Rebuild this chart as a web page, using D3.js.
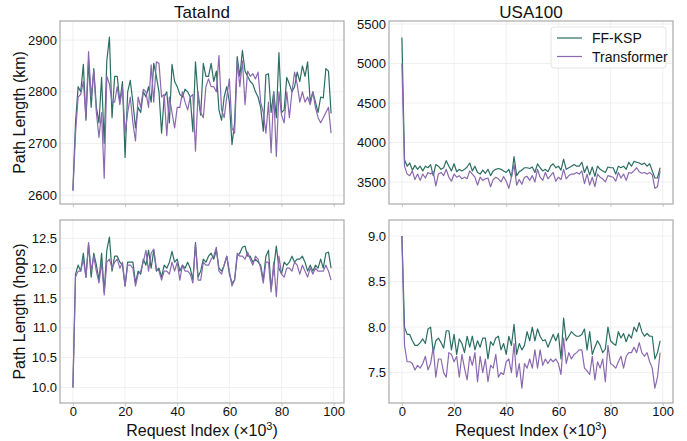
<!DOCTYPE html>
<html>
<head>
<meta charset="utf-8">
<script src="https://cdn.jsdelivr.net/npm/d3@7"></script>
<style>
  body { margin: 0; background: #fff; }
  svg { font-family: "Liberation Sans", Arial, sans-serif; }
</style>
</head>
<body>
<div class="chart"></div>
<script>

// request index, in thousands
let requestIndex = d3.range(0, 100);

let seriesNames = ["FF-KSP", "Transformer"];
let networks = ["TataInd", "USA100"];

let xTicks = [0, 20, 40, 60, 80, 100];
let kmTicksTata = [2600, 2700, 2800, 2900];
let kmTicksUsa = [3500, 4000, 4500, 5000, 5500];
let hopTicksTata = [10.0, 10.5, 11.0, 11.5, 12.0, 12.5];
let hopTicksUsa = [7.5, 8.0, 8.5, 9.0];

let tataKmKsp = [2610, 2740, 2810, 2800, 2853, 2745, 2860, 2770, 2845, 2770,
  2740, 2828, 2700, 2860, 2906, 2750, 2830, 2830, 2780, 2820,
  2673, 2800, 2822, 2780, 2730, 2770, 2760, 2800, 2790, 2810,
  2780, 2855, 2830, 2800, 2720, 2790, 2800, 2740, 2853, 2820,
  2810, 2795, 2790, 2805, 2800, 2790, 2723, 2858, 2790, 2755,
  2855, 2830, 2830, 2855, 2820, 2840, 2765, 2745, 2790, 2810,
  2780, 2698, 2740, 2868, 2830, 2880, 2840, 2830, 2820, 2815,
  2800, 2790, 2770, 2724, 2833, 2835, 2760, 2800, 2750, 2876,
  2760, 2765, 2828, 2815, 2800, 2810, 2838, 2820, 2850, 2830,
  2858, 2780, 2800, 2780, 2760, 2790, 2788, 2845, 2840, 2758];

let tataKmTransformer = [2608, 2720, 2790, 2795, 2820, 2750, 2878, 2790, 2840, 2760,
  2712, 2760, 2633, 2830, 2815, 2780, 2780, 2810, 2775, 2810,
  2720, 2760, 2790, 2740, 2705, 2790, 2770, 2805, 2800, 2770,
  2852, 2780, 2858, 2855, 2790, 2795, 2715, 2790, 2760, 2730,
  2770, 2770, 2800, 2780, 2765, 2790, 2795, 2685, 2800, 2760,
  2750, 2810, 2825, 2810, 2810, 2800, 2870, 2765, 2750, 2790,
  2825, 2730, 2720, 2860, 2810, 2860, 2775, 2840, 2830, 2835,
  2825, 2838, 2780, 2760, 2720, 2780, 2682, 2800, 2675, 2800,
  2755, 2740, 2800, 2750, 2800, 2838, 2815, 2780, 2800, 2780,
  2790, 2775, 2800, 2770, 2750, 2740, 2750, 2760, 2770, 2720];

let usaKmKsp = [5330, 3780, 3700, 3740, 3650, 3710, 3660, 3700, 3640, 3700,
  3680, 3720, 3580, 3720, 3700, 3660, 3680, 3770, 3700, 3640,
  3730, 3630, 3660, 3640, 3660, 3690, 3740, 3640, 3700, 3620,
  3600, 3650, 3610, 3660, 3580, 3640, 3660, 3670, 3660, 3640,
  3620, 3660, 3560, 3820, 3580, 3630, 3650, 3680, 3680, 3670,
  3690, 3620, 3730, 3680, 3640, 3660, 3630, 3700, 3730, 3680,
  3700, 3650, 3790, 3660, 3680, 3700, 3720, 3700, 3700, 3750,
  3620, 3700, 3590, 3690, 3570, 3700, 3660, 3640, 3620, 3690,
  3680, 3680, 3600, 3700, 3680, 3700, 3660, 3750, 3700, 3760,
  3750, 3740, 3720, 3740, 3700, 3730, 3640, 3550, 3550, 3680];

let usaKmTransformer = [5000, 3700, 3600, 3580, 3640, 3530, 3600, 3520, 3600, 3550,
  3620, 3600, 3630, 3450, 3600, 3620, 3580, 3660, 3560, 3510,
  3600, 3560, 3580, 3540, 3560, 3540, 3640, 3600, 3560, 3460,
  3560, 3520, 3540, 3550, 3440, 3530, 3560, 3540, 3500, 3570,
  3510, 3420, 3560, 3720, 3460, 3530, 3470, 3560, 3570, 3520,
  3580, 3500, 3660, 3560, 3520, 3620, 3540, 3580, 3620, 3510,
  3560, 3530, 3660, 3540, 3580, 3600, 3600, 3620, 3600, 3640,
  3480, 3600, 3460, 3560, 3440, 3600, 3560, 3540, 3500, 3580,
  3570, 3560, 3510, 3620, 3550, 3600, 3520, 3620, 3610, 3640,
  3680, 3630, 3610, 3620, 3600, 3620, 3590, 3420, 3440, 3640];

let tataHopKsp = [10.0, 11.9, 12.05, 11.95, 12.25, 11.85, 12.4, 11.85, 12.25, 12.05,
  11.8, 12.25, 11.6, 12.3, 12.52, 11.95, 12.2, 12.2, 12.1, 12.05,
  11.7, 12.1, 12.1, 12.1, 11.75, 11.95, 11.9, 12.15, 12.05, 12.3,
  12.0, 12.3, 11.95, 12.0, 11.85, 12.05, 12.0, 12.1, 12.28, 12.1,
  12.15, 11.95, 12.05, 12.0, 12.1, 12.0, 11.8, 12.43, 11.85, 11.95,
  12.15, 12.1, 12.2, 12.25, 12.15, 12.3, 12.0, 11.95, 12.05, 12.2,
  11.9, 11.75, 11.8, 12.2, 12.25, 12.35, 12.37, 12.2, 12.2, 12.1,
  12.15, 12.1, 12.05, 11.8, 12.2, 12.3, 11.65, 12.0, 12.37, 12.0,
  11.9, 12.1, 12.05, 12.1, 12.2, 12.1, 12.15, 12.15, 12.2, 12.1,
  11.95, 12.05, 11.95, 12.05, 12.0, 12.15, 12.0, 12.25, 12.27, 12.0];

let tataHopTransformer = [10.0, 11.85, 11.95, 11.95, 12.15, 11.85, 12.43, 11.95, 12.2, 11.95,
  11.75, 12.1, 11.55, 12.1, 12.15, 12.0, 12.1, 12.15, 12.0, 12.1,
  11.7, 12.05, 12.05, 12.0, 11.7, 11.9, 11.95, 12.1, 12.3, 11.95,
  12.25, 12.32, 12.0, 11.95, 11.8, 11.95, 11.95, 11.9, 12.1, 11.95,
  12.1, 11.8, 12.05, 11.95, 11.95, 11.9, 11.75, 12.4, 11.8, 11.8,
  12.1, 12.05, 12.05, 12.15, 12.2, 12.35, 11.95, 11.9, 12.05, 12.2,
  11.95, 11.7, 11.8, 12.25, 12.2, 12.2, 12.15, 12.27, 12.15, 12.05,
  12.2, 12.15, 12.0, 11.75, 12.1, 12.1, 11.6, 12.1, 11.52, 12.2,
  11.9, 11.85, 12.0, 12.0, 11.95, 12.1, 12.05, 11.9, 12.05, 11.95,
  11.85, 12.0, 11.9, 12.0, 11.95, 11.95, 11.95, 12.05, 11.95, 11.8];

let usaHopKsp = [9.0, 8.0, 7.92, 7.92, 7.85, 7.8, 7.8, 7.83, 7.87, 7.82,
  7.98, 8.0, 7.72, 7.85, 7.88, 7.83, 7.77, 7.96, 7.96, 7.75,
  7.92, 7.7, 7.87, 7.82, 7.72, 7.9, 7.78, 7.9, 7.75, 7.85,
  7.78, 7.88, 7.88, 7.65, 7.84, 7.8, 7.88, 7.9, 7.75, 7.82,
  7.7, 7.9, 7.8, 8.03, 7.7, 7.82, 7.75, 7.8, 7.95, 7.85,
  8.0, 7.85, 7.98, 7.9, 7.85, 7.86, 7.78, 7.85, 7.92, 7.85,
  7.93, 7.65, 8.1, 7.85, 7.9, 7.95, 7.92, 7.9, 7.9, 7.92,
  7.98, 7.75, 7.95, 7.7, 7.78, 7.85, 7.8, 7.72, 7.76, 8.0,
  7.85, 7.82, 7.8, 7.95, 7.88, 7.93, 7.84, 7.92, 7.88, 8.0,
  7.95, 8.05, 7.95, 7.9, 7.93, 7.9, 7.9, 7.65, 7.72, 7.85];

let usaHopTransformer = [9.0, 7.8, 7.62, 7.62, 7.6, 7.53, 7.58, 7.55, 7.6, 7.68,
  7.53, 7.6, 7.78, 7.45, 7.65, 7.65, 7.5, 7.45, 7.72, 7.7,
  7.62, 7.68, 7.45, 7.7, 7.55, 7.42, 7.68, 7.58, 7.72, 7.4,
  7.68, 7.5, 7.65, 7.4, 7.58, 7.55, 7.7, 7.45, 7.5, 7.48,
  7.62, 7.65, 7.5, 7.82, 7.45, 7.6, 7.33, 7.6, 7.55, 7.65,
  7.55, 7.75, 7.55, 7.75, 7.58, 7.65, 7.6, 7.65, 7.62, 7.65,
  7.6, 7.48, 7.88, 7.6, 7.72, 7.65, 7.7, 7.72, 7.75, 7.75,
  7.55, 7.52, 7.48, 7.68, 7.42, 7.62, 7.55, 7.65, 7.4, 7.8,
  7.6, 7.58, 7.55, 7.62, 7.68, 7.55, 7.68, 7.72, 7.72, 7.78,
  7.72, 7.83, 7.72, 7.68, 7.72, 7.62, 7.55, 7.33, 7.45, 7.72];

let colors = {"FF-KSP": "#2b6e62", "Transformer": "#8b69b1"};

let svg = d3.select(".chart").append("svg").attr("width", 687).attr("height", 441);

// panel frames (pixels) and y domains incl. matplotlib-style padding
let panels = [
  {left: 60, right: 344, top: 21, bottom: 204, y: [2583, 2937], ticks: kmTicksTata, fmt: d3.format("d"),
    series: [tataKmKsp, tataKmTransformer], title: networks[0], ylabel: "Path Length (km)", xlabels: false},
  {left: 389, right: 673, top: 21, bottom: 204, y: [3221, 5538], ticks: kmTicksUsa, fmt: d3.format("d"),
    series: [usaKmKsp, usaKmTransformer], title: networks[1], legend: true, xlabels: false},
  {left: 60, right: 344, top: 220, bottom: 403, y: [9.739, 12.807], ticks: hopTicksTata, fmt: d3.format(".1f"),
    series: [tataHopKsp, tataHopTransformer], ylabel: "Path Length (hops)", xlabels: true},
  {left: 389, right: 673, top: 220, bottom: 403, y: [7.167, 9.176], ticks: hopTicksUsa, fmt: d3.format(".1f"),
    series: [usaHopKsp, usaHopTransformer], xlabels: true}
];

panels.forEach(p => {

  let x = d3.scaleLinear().domain([-4.95, 103.95]).range([p.left, p.right]);
  let y = d3.scaleLinear().domain(p.y).range([p.bottom, p.top]);

  let g = svg.append("g");

  // grid
  g.selectAll(".gx").data(xTicks).enter().append("line")
    .attr("x1", d => x(d)).attr("x2", d => x(d))
    .attr("y1", p.top).attr("y2", p.bottom)
    .attr("stroke", "#ececec").attr("stroke-width", 0.8);
  g.selectAll(".gy").data(p.ticks).enter().append("line")
    .attr("x1", p.left).attr("x2", p.right)
    .attr("y1", d => y(d)).attr("y2", d => y(d))
    .attr("stroke", "#ececec").attr("stroke-width", 0.8);

  // axes
  let xAxis = d3.axisBottom(x).tickValues(xTicks).tickSize(3).tickPadding(0.5)
    .tickFormat(p.xlabels ? d3.format("d") : "");
  let yAxis = d3.axisLeft(y).tickValues(p.ticks).tickSize(0).tickPadding(3).tickFormat(p.fmt);

  let gx = g.append("g").attr("transform", `translate(0,${p.bottom})`).call(xAxis);
  let gy = g.append("g").attr("transform", `translate(${p.left},0)`).call(yAxis);

  [gx, gy].forEach(a => {
    a.select(".domain").remove();
    a.selectAll(".tick line").attr("stroke", "#c8c8c8");
    a.selectAll(".tick text").attr("fill", "#111").style("font-size", "13px")
      .style("font-family", "Liberation Sans, Arial, sans-serif");
  });

  // lines
  let line = d3.line().x((d, i) => x(requestIndex[i])).y(d => y(d));

  p.series.forEach((s, k) => {
    g.append("path")
      .datum(s)
      .attr("fill", "none")
      .attr("stroke", colors[seriesNames[k]])
      .attr("stroke-width", 1.2)
      .attr("stroke-linejoin", "round")
      .attr("d", line);
  });

  // frame
  g.append("rect")
    .attr("x", p.left).attr("y", p.top)
    .attr("width", p.right - p.left).attr("height", p.bottom - p.top)
    .attr("fill", "none").attr("stroke", "#aaaaaa").attr("stroke-width", 1.2);

  if (p.title) {
    svg.append("text")
      .attr("x", (p.left + p.right) / 2).attr("y", 18)
      .attr("text-anchor", "middle")
      .style("font-size", "17px").attr("fill", "#111")
      .text(p.title);
  }

  if (p.ylabel) {
    svg.append("text")
      .attr("transform", `translate(25,${(p.top + p.bottom) / 2}) rotate(-90)`)
      .attr("text-anchor", "middle")
      .style("font-size", "16px").attr("fill", "#111")
      .text(p.ylabel);
  }

  if (p.xlabels) {
    let t = svg.append("text")
      .attr("x", (p.left + p.right) / 2).attr("y", 436)
      .attr("text-anchor", "middle")
      .style("font-size", "16px").attr("fill", "#111")
      .text("Request Index (\u00d710");
    t.append("tspan").attr("dy", -6).style("font-size", "11px").text("3");
    t.append("tspan").attr("dy", 6).text(")");
  }

  if (p.legend) {
    let lg = svg.append("g").attr("transform", "translate(551,27)");
    lg.append("rect")
      .attr("width", 115).attr("height", 41).attr("rx", 3)
      .attr("fill", "#fff").attr("fill-opacity", 0.8)
      .attr("stroke", "#dddddd").attr("stroke-width", 0.8);
    seriesNames.forEach((n, k) => {
      let yy = 11 + k * 18.5;
      lg.append("line")
        .attr("x1", 6).attr("x2", 31).attr("y1", yy).attr("y2", yy)
        .attr("stroke", colors[n]).attr("stroke-width", 1.2);
      lg.append("text")
        .attr("x", 41).attr("y", yy + 5)
        .style("font-size", "14px").attr("fill", "#111")
        .text(n);
    });
  }
});

</script>
</body>
</html>
